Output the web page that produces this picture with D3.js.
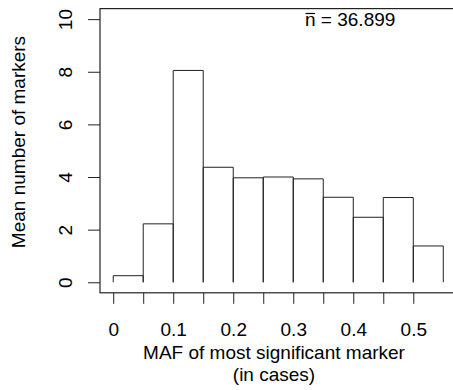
<!DOCTYPE html>
<html>
<head>
<meta charset="utf-8">
<script src="https://cdn.jsdelivr.net/npm/d3@7"></script>
<style>
  body { margin: 0; background: #fff; }
  svg { display: block; font-family: "Liberation Sans", Arial, Helvetica, sans-serif; }
</style>
</head>
<body>
<svg id="canvas" width="453" height="390"></svg>
<script>
// histogram: bin edges (MAF) and mean number of markers per bin
var binEdges = [0, 0.05, 0.1, 0.15, 0.2, 0.25, 0.3, 0.35, 0.4, 0.45, 0.5, 0.55];
var meanMarkers = [0.25, 2.22, 8.05, 4.37, 3.97, 4.0, 3.93, 3.23, 2.47, 3.22, 1.38];
var xTicks = [0, 0.05, 0.1, 0.15, 0.2, 0.25, 0.3, 0.35, 0.4, 0.45, 0.5];
var xLabels = [0, 0.1, 0.2, 0.3, 0.4, 0.5];
var yTicks = [0, 2, 4, 6, 8, 10];
var meanN = "36.899";

var svg = d3.select('#canvas'),
    fs = 19,
    ink = '#222';

// R-style usr ranges (4% padding around the data range)
var x = d3.scaleLinear().domain([-0.022, 0.572]).range([100, 456.5]),
    y = d3.scaleLinear().domain([-0.4, 10.4]).range([292.8, 8.6]);

// bars: top and sides only
svg.append('g')
    .selectAll('path')
    .data(meanMarkers)
  .enter().append('path')
    .attr('fill', 'none')
    .attr('stroke', ink)
    .attr('stroke-width', 1)
    .attr('d', function(d, i) {
        var x0 = x(binEdges[i]), x1 = x(binEdges[i + 1]);
        return 'M' + x0 + ',' + y(0) + 'V' + y(d) + 'H' + x1 + 'V' + y(0);
    });

// box
svg.append('rect')
    .attr('x', x.range()[0])
    .attr('y', y.range()[1])
    .attr('width', x.range()[1] - x.range()[0])
    .attr('height', y.range()[0] - y.range()[1])
    .attr('fill', 'none')
    .attr('stroke', ink)
    .attr('stroke-width', 1.2);

// x axis
var xAxis = svg.append('g')
    .attr('transform', 'translate(0,' + y.range()[0] + ')')
    .call(d3.axisBottom(x)
        .tickValues(xTicks)
        .tickSize(11)
        .tickFormat(function(d) {
            return xLabels.some(function(l) { return Math.abs(l - d) < 1e-9; }) ? d3.format('')(+d.toFixed(2)) : '';
        }));
xAxis.select('.domain').remove();
xAxis.selectAll('line').attr('stroke', ink);
xAxis.selectAll('text')
    .attr('y', 43.5).attr('dy', null)
    .attr('fill', '#000')
    .style('font-size', fs + 'px')
    .style('font-family', 'inherit');

// y axis
var yAxis = svg.append('g')
    .attr('transform', 'translate(' + x.range()[0] + ',0)')
    .call(d3.axisLeft(y).tickValues(yTicks).tickSize(12));
yAxis.select('.domain').remove();
yAxis.selectAll('line').attr('stroke', ink);
yAxis.selectAll('text')
    .attr('x', null).attr('dy', null)
    .attr('transform', 'translate(-28,0) rotate(-90)')
    .attr('text-anchor', 'middle')
    .attr('fill', '#000')
    .style('font-size', fs + 'px')
    .style('font-family', 'inherit');

// axis titles
svg.append('text')
    .attr('x', 274).attr('y', 358.5)
    .attr('text-anchor', 'middle')
    .style('font-size', fs + 'px')
    .text('MAF of most significant marker');
svg.append('text')
    .attr('x', 274).attr('y', 381)
    .attr('text-anchor', 'middle')
    .style('font-size', fs + 'px')
    .text('(in cases)');
svg.append('text')
    .attr('transform', 'translate(25,142) rotate(-90)')
    .attr('text-anchor', 'middle')
    .style('font-size', fs + 'px')
    .text('Mean number of markers');

// n-bar annotation
var ann = svg.append('text')
    .attr('x', 305).attr('y', 26)
    .style('font-size', fs + 'px');
ann.append('tspan').attr('class', 'nbar').text('n');
ann.append('tspan').text(' = ' + meanN);
var nb = ann.select('.nbar').node().getBBox();
svg.append('line')
    .attr('x1', nb.x + 0.5).attr('x2', nb.x + nb.width - 0.5)
    .attr('y1', 13.5).attr('y2', 13.5)
    .attr('stroke', '#000').attr('stroke-width', 1.2);
</script>
</body>
</html>
